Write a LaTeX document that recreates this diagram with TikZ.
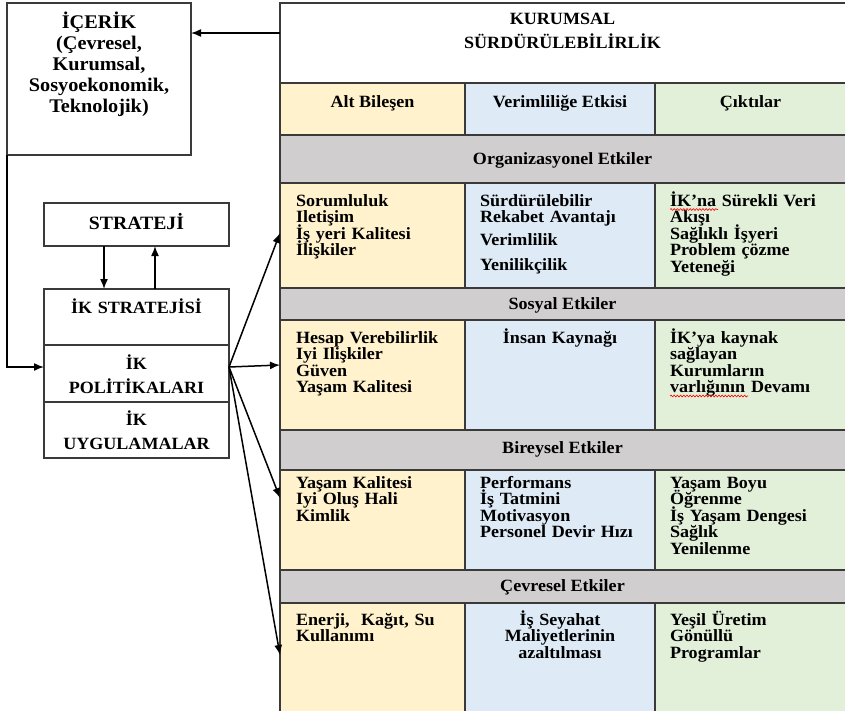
\documentclass[tikz,border=0pt]{standalone}
\usepackage{fontspec}
\setmainfont{Liberation Serif}[FakeStretch=1.05]
\usetikzlibrary{arrows.meta,decorations.pathmorphing}
\definecolor{cyel}{HTML}{FFF2CC}
\definecolor{cblu}{HTML}{DEEAF6}
\definecolor{cgrn}{HTML}{E2EFD9}
\definecolor{cgry}{HTML}{D0CECE}
\definecolor{cline}{HTML}{3A3A3A}
\newcommand\mytight{\setlength{\lineskiplimit}{-30pt}}
\begin{document}
\begin{tikzpicture}[x=1pt,y=-1pt,
  box/.style={draw=cline,line width=1.1pt,inner sep=0pt,outer sep=0pt,anchor=north west},
  txt/.style={inner sep=0pt,outer sep=0pt,font=\bfseries\fontsize{17.2}{16.6}\selectfont\mytight,text=black},
  lefttxt/.style={txt,anchor=base west,align=left,text width=175pt},
  ctrtxt/.style={txt,anchor=base,align=center,text width=180pt},
  bigtxt/.style={txt,anchor=base,align=center,text width=180pt,font=\bfseries\fontsize{19.3}{21}\selectfont\mytight},
  iktxt/.style={txt,anchor=base,align=center,text width=180pt,font=\bfseries\fontsize{17.2}{24.5}\selectfont\mytight},
  arr/.style={line width=1.5pt,-{Latex[length=10pt,width=8pt]}},
  wavy/.style={draw=red,line width=0.6pt,decorate,decoration={snake,amplitude=0.9pt,segment length=3.2pt}}
]
\useasboundingbox[fill=white] (0,0) rectangle (845,710);

% ---------- table ----------
\node[box,minimum width=566pt,minimum height=80pt] (title) at (280,3) {};
\node[box,fill=cyel,minimum width=185pt,minimum height=52pt] (hA) at (280,83) {};
\node[box,fill=cblu,minimum width=190pt,minimum height=52pt] (hB) at (465,83) {};
\node[box,fill=cgrn,minimum width=191pt,minimum height=52pt] (hC) at (655,83) {};
\node[box,fill=cgry,minimum width=566pt,minimum height=48pt] (g1) at (280,135) {};
\node[box,fill=cyel,minimum width=185pt,minimum height=105pt] (r1a) at (280,183) {};
\node[box,fill=cblu,minimum width=190pt,minimum height=105pt] (r1b) at (465,183) {};
\node[box,fill=cgrn,minimum width=191pt,minimum height=105pt] (r1c) at (655,183) {};
\node[box,fill=cgry,minimum width=566pt,minimum height=32pt] (g2) at (280,288) {};
\node[box,fill=cyel,minimum width=185pt,minimum height=110pt] (r2a) at (280,320) {};
\node[box,fill=cblu,minimum width=190pt,minimum height=110pt] (r2b) at (465,320) {};
\node[box,fill=cgrn,minimum width=191pt,minimum height=110pt] (r2c) at (655,320) {};
\node[box,fill=cgry,minimum width=566pt,minimum height=40pt] (g3) at (280,430) {};
\node[box,fill=cyel,minimum width=185pt,minimum height=100pt] (r3a) at (280,470) {};
\node[box,fill=cblu,minimum width=190pt,minimum height=100pt] (r3b) at (465,470) {};
\node[box,fill=cgrn,minimum width=191pt,minimum height=100pt] (r3c) at (655,470) {};
\node[box,fill=cgry,minimum width=566pt,minimum height=33pt] (g4) at (280,570) {};
\node[box,fill=cyel,minimum width=185pt,minimum height=110pt] (r4a) at (280,603) {};
\node[box,fill=cblu,minimum width=190pt,minimum height=110pt] (r4b) at (465,603) {};
\node[box,fill=cgrn,minimum width=191pt,minimum height=110pt] (r4c) at (655,603) {};

\node[txt,anchor=base] (tt1) at (562.5,24.5) {KURUMSAL};
\node[txt,anchor=base] (tt2) at (562.5,48) {SÜRDÜRÜLEBİLİRLİK};
\node[txt,anchor=base] (hAT) at (372.5,107) {Alt Bileşen};
\node[txt,anchor=base] (hBT) at (560,107) {Verimliliğe Etkisi};
\node[txt,anchor=base] (hCT) at (750.5,107) {Çıktılar};
\node[txt,anchor=base] (g1T) at (562.5,164) {Organizasyonel Etkiler};
\node[txt,anchor=base] (g2T) at (562.5,309) {Sosyal Etkiler};
\node[txt,anchor=base] (g3T) at (562.5,453) {Bireysel Etkiler};
\node[txt,anchor=base] (g4T) at (562.5,591) {Çevresel Etkiler};

\node[lefttxt] (r1aT) at (296,206) {Sorumluluk\\Iletişim\\İş yeri Kalitesi\\İlişkiler};
\node[lefttxt] (r1bT) at (480,206) {Sürdürülebilir\\Rekabet Avantajı\\[6.6pt]Verimlilik\\[8.4pt]Yenilikçilik};
\node[lefttxt] (r1cT) at (670,206) {İK’na Sürekli Veri\\Akışı\\Sağlıklı İşyeri\\Problem çözme\\Yeteneği};
\node[lefttxt] (r2aT) at (296,343) {Hesap Verebilirlik\\Iyi Ilişkiler\\Güven\\Yaşam Kalitesi};
\node[ctrtxt] (r2bT) at (560,343) {İnsan Kaynağı};
\node[lefttxt] (r2cT) at (670,343) {İK’ya kaynak\\sağlayan\\Kurumların\\varlığının Devamı};
\node[lefttxt] (r3aT) at (296,488) {Yaşam Kalitesi\\Iyi Oluş Hali\\Kimlik};
\node[lefttxt] (r3bT) at (480,488) {Performans\\İş Tatmini\\Motivasyon\\Personel Devir Hızı};
\node[lefttxt] (r3cT) at (670,488) {Yaşam Boyu\\Öğrenme\\İş Yaşam Dengesi\\Sağlık\\Yenilenme};
\node[lefttxt] (r4aT) at (296,625) {Enerji,~ Kağıt, Su\\Kullanımı};
\node[ctrtxt] (r4bT) at (560,625) {İş Seyahat\\Maliyetlerinin\\azaltılması};
\node[lefttxt] (r4cT) at (670,625) {Yeşil Üretim\\Gönüllü\\Programlar};

\draw[wavy] (670,209.5) -- (718,209.5);
\draw[wavy] (670,396) -- (748,396);

% ---------- left side ----------
\node[box,fill=white,minimum width=184pt,minimum height=152pt] (icerik) at (7,3) {};
\node[bigtxt] (icerikT) at (99,28) {İÇERİK\\(Çevresel,\\Kurumsal,\\Sosyoekonomik,\\Teknolojik)};
\node[box,fill=white,minimum width=185pt,minimum height=43pt] (strat) at (44,203) {};
\node[bigtxt,font=\bfseries\fontsize{18.8}{21}\selectfont] (stratT) at (136.5,229.5) {STRATEJİ};
\node[box,fill=white,minimum width=185pt,minimum height=56pt] (iks) at (44,289) {};
\node[box,fill=white,minimum width=185pt,minimum height=57pt] (pol) at (44,345) {};
\node[box,fill=white,minimum width=185pt,minimum height=56pt] (uyg) at (44,402) {};
\node[iktxt] (iksT) at (136.5,313) {İK STRATEJİSİ};
\node[iktxt] (polT) at (136.5,369) {İK\\POLİTİKALARI};
\node[iktxt] (uygT) at (136.5,425) {İK\\UYGULAMALAR};

% ---------- connectors ----------
\coordinate (tin) at (280,33);
\draw[arr] (tin) -- (tin -| icerik.east);
\coordinate (feed) at (44,367);
\draw[arr] (icerik.south west) |- (feed);
\coordinate (sd1) at (104,246);
\coordinate (sd2) at (104,289);
\coordinate (su1) at (155,289);
\coordinate (su2) at (155,246);
\draw[arr] (sd1) -- (sd2);
\draw[arr] (su1) -- (su2);
\coordinate (fan) at (229,367);
\coordinate (t1) at (280,233);
\coordinate (t2) at (280,365);
\coordinate (t3) at (280,498);
\coordinate (t4) at (280,655);
\draw[arr] (fan) -- (t1);
\draw[arr] (fan) -- (t2);
\draw[arr] (fan) -- (t3);
\draw[arr] (fan) -- (t4);
\end{tikzpicture}
\end{document}
